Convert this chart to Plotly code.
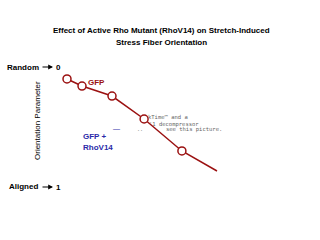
import plotly.graph_objects as go

# data: time-like x values and orientation parameter (0 = random, 1 = aligned)
x_vals = [0, 5, 15, 25.7, 38.3, 50]
y_vals = [0.073, 0.116, 0.177, 0.317, 0.512, 0.634]
marker_count = 5

title_lines = ["Effect of Active Rho Mutant (RhoV14) on Stretch-Induced",
               "Stress Fiber Orientation"]

RED = "#9b1111"
BLUE = "#2a2aa8"
W, H = 320, 240
px_per_x = 3.0
x0_px = 67
y0_px, y1_px = 67, 231

fig = go.Figure()
fig.add_trace(go.Scatter(x=x_vals, y=y_vals, mode="lines",
                         line=dict(color=RED, width=1.5), hoverinfo="skip"))
fig.add_trace(go.Scatter(x=x_vals[:marker_count], y=y_vals[:marker_count], mode="markers",
                         marker=dict(symbol="circle", size=8, color="white",
                                     line=dict(color=RED, width=1.5)), hoverinfo="skip"))

xr = [-x0_px / px_per_x, (W - x0_px) / px_per_x]
ppu = (y1_px - y0_px)
yr = [(H - y0_px) / ppu, -y0_px / ppu]

fig.update_layout(
    width=W, height=H, margin=dict(l=0, r=0, t=0, b=0),
    paper_bgcolor="white", plot_bgcolor="white", showlegend=False,
    xaxis=dict(range=xr, visible=False, fixedrange=True),
    yaxis=dict(range=yr, visible=False, fixedrange=True),
    font=dict(family="Liberation Sans, Arial", color="black"),
)

def pa(x, y, text, size=8, color="black", xanchor="center", bold=False, angle=0, family=None):
    fig.add_annotation(x=x / W, y=1 - y / H, xref="paper", yref="paper", text=("<b>%s</b>" % text) if bold else text,
                       showarrow=False, xanchor=xanchor, yanchor="middle", textangle=angle,
                       borderpad=0,
                       font=dict(size=size, color=color, family=family or "Liberation Sans, Arial"))

pa(161, 31, title_lines[0], size=8, bold=True)
pa(161, 42, title_lines[1], size=8, bold=True)

pa(6, 67, "Random", size=8, xanchor="left", bold=True)
pa(55, 67, "0", size=8, xanchor="left", bold=True)
pa(8, 186, "Aligned", size=8, xanchor="left", bold=True)
pa(55, 187, "1", size=8, xanchor="left", bold=True)
for yy in (67, 187):
    fig.add_annotation(x=53 / W, y=1 - yy / H, ax=-12, ay=0, xref="paper", yref="paper",
                       axref="pixel", ayref="pixel", text="", showarrow=True, arrowhead=2,
                       arrowsize=0.8, arrowwidth=1.2, arrowcolor="black")

pa(37, 121, "Orientation Parameter", size=8, angle=-90)

pa(87, 82, "GFP", size=8, color=RED, xanchor="left", bold=True)
pa(82, 136, "GFP +", size=8, color=BLUE, xanchor="left", bold=True)
pa(82, 147, "RhoV14", size=8, color=BLUE, xanchor="left", bold=True)
pa(112, 128, "\u2014", size=7, color=BLUE, xanchor="left")

GRAY = "#666666"
pa(147, 117, "kTime\u2122 and a", size=5.5, color=GRAY, xanchor="left", family="DejaVu Sans Mono")
pa(148, 124, "'1 decompressor", size=5.5, color=GRAY, xanchor="left", family="DejaVu Sans Mono")
pa(165, 129, "see this picture.", size=5.5, color=GRAY, xanchor="left", family="DejaVu Sans Mono")
pa(136, 129, "..", size=5, color=GRAY, xanchor="left", family="DejaVu Sans Mono")

fig.write_html("out.html")
